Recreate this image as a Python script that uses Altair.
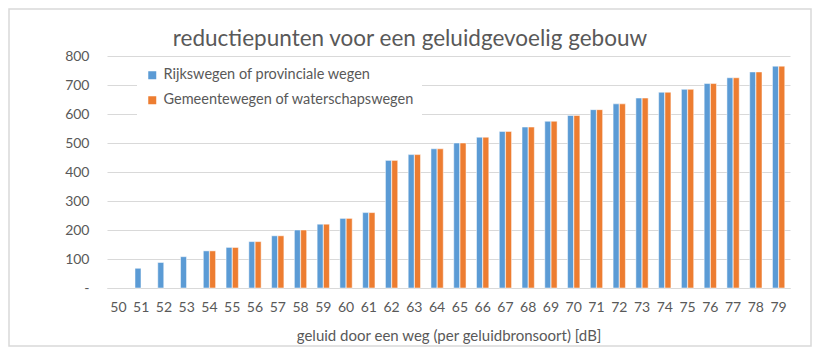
import altair as alt
import pandas as pd

categories = [str(v) for v in range(50, 80)]
series_names = ["Rijkswegen of provinciale wegen", "Gemeentewegen of waterschapswegen"]
rijkswegen = [None, 68, 88, 108, 128, 140, 160, 180, 200, 220, 240, 260, 440, 460, 480,
              500, 520, 540, 555, 575, 595, 615, 635, 655, 675, 685, 705, 725, 745, 765]
gemeentewegen = [None, None, None, None, 128, 140, 160, 180, 200, 220, 240, 260, 440, 460, 480,
                 500, 520, 540, 555, 575, 595, 615, 635, 655, 675, 685, 705, 725, 745, 765]
colors = ["#5B9BD5", "#ED7D31"]
title_text = "reductiepunten voor een geluidgevoelig gebouw"

rows = []
for c, a, b in zip(categories, rijkswegen, gemeentewegen):
    if a is not None:
        rows.append({"cat": c, "serie": series_names[0], "val": a})
    if b is not None:
        rows.append({"cat": c, "serie": series_names[1], "val": b})
df = pd.DataFrame(rows)

FONT = "Lato"
TXT = "#595959"
GRID = "#d9d9d9"

bars = alt.Chart(df).mark_bar(stroke="white", strokeWidth=0.5).encode(
    x=alt.X("cat:N", scale=alt.Scale(domain=categories, paddingInner=0.46, paddingOuter=0.23),
            axis=alt.Axis(title="geluid door een weg (per geluidbronsoort) [dB]", labelAngle=0,
                          ticks=False, domainColor=GRID, labelPadding=12, titlePadding=14)),
    xOffset=alt.XOffset("serie:N", scale=alt.Scale(domain=series_names, paddingInner=0.05)),
    y=alt.Y("val:Q", scale=alt.Scale(domain=[0, 800], nice=False),
            axis=alt.Axis(title=None, values=[0, 100, 200, 300, 400, 500, 600, 700, 800],
                          domain=False, ticks=False, labelPadding=18, gridColor=GRID,
                          labelExpr="datum.value == 0 ? '-\u2007\u2007' : datum.label")),
    color=alt.Color("serie:N", scale=alt.Scale(domain=series_names, range=colors),
                    legend=alt.Legend(title=None, orient="none", legendX=30, legendY=4,
                                      symbolType="square", symbolSize=64, labelFontSize=14.5,
                                      rowPadding=10, fillColor="white", padding=8, labelLimit=400,
                                      labelFont=FONT, labelColor=TXT, symbolStrokeWidth=0)),
)

title = alt.Chart(pd.DataFrame({"t": [title_text]})).mark_text(
    font=FONT, fontSize=22.5, color=TXT, align="center", baseline="middle"
).encode(text="t:N", x=alt.value(303), y=alt.value(-17))

frame = alt.Chart(pd.DataFrame({"a": [0]})).mark_rect(fill=None, stroke=GRID, strokeWidth=1.5).encode(
    x=alt.value(-98), x2=alt.value(704), y=alt.value(-47), y2=alt.value(290)
)

chart = alt.layer(bars, title, frame).properties(
    width=683, height=232,
    padding={"left": 99, "top": 48, "right": 23, "bottom": 59},
    autosize=alt.AutoSizeParams(type="none"),
).configure_view(stroke=None).configure_axis(
    labelFont=FONT, titleFont=FONT, labelColor=TXT, titleColor=TXT,
    labelFontSize=14, titleFontSize=15, titleFontWeight="normal"
)

chart.save("out.html", embed_options={"renderer": "svg", "actions": False})
